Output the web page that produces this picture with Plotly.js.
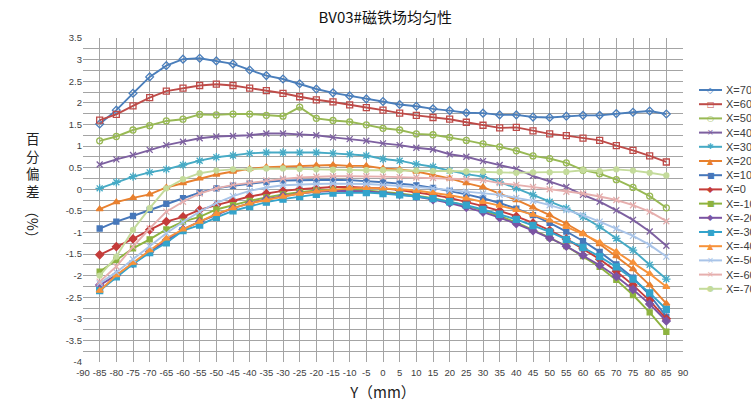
<!DOCTYPE html>
<html>
<head>
<meta charset="utf-8">
<script src="https://cdn.plot.ly/plotly-3.0.1.min.js"></script>
<style>html,body{margin:0;padding:0;background:#fff;}#chart{width:751px;height:405px;}</style>
</head>
<body>
<div id="chart"></div>
<script>
// Y position (mm) along the horizontal axis
const yPos = [-85,-80,-75,-70,-65,-60,-55,-50,-45,-40,-35,-30,-25,-20,-15,-10,-5,0,5,10,15,20,25,30,35,40,45,50,55,60,65,70,75,80,85];

const seriesNames = ["X=70","X=60","X=50","X=40","X=30","X=20","X=10","X=0","X=-10","X=-20","X=-30","X=-40","X=-50","X=-60","X=-70"];

const sX70 = [1.51,1.83,2.22,2.60,2.86,3.01,3.03,2.97,2.90,2.76,2.63,2.55,2.44,2.32,2.23,2.16,2.09,2.03,1.96,1.92,1.86,1.82,1.77,1.76,1.72,1.72,1.67,1.66,1.69,1.71,1.71,1.75,1.78,1.81,1.74];
const sX60 = [1.60,1.73,1.93,2.12,2.27,2.34,2.40,2.43,2.40,2.34,2.28,2.22,2.14,2.07,2.02,1.95,1.89,1.83,1.76,1.71,1.66,1.62,1.55,1.48,1.42,1.43,1.35,1.28,1.24,1.18,1.13,1.01,0.90,0.77,0.63];
const sX50 = [1.12,1.22,1.37,1.47,1.58,1.62,1.73,1.72,1.74,1.74,1.71,1.69,1.90,1.64,1.59,1.56,1.49,1.41,1.37,1.28,1.26,1.20,1.13,1.05,0.98,0.89,0.77,0.71,0.61,0.44,0.36,0.22,0.04,-0.16,-0.43];
const sX40 = [0.57,0.69,0.79,0.91,1.02,1.10,1.18,1.22,1.23,1.25,1.29,1.29,1.27,1.25,1.20,1.16,1.12,1.06,1.02,0.96,0.92,0.81,0.75,0.65,0.56,0.47,0.31,0.18,0.05,-0.13,-0.29,-0.49,-0.71,-0.98,-1.31];
const sX30 = [0.02,0.16,0.29,0.39,0.46,0.56,0.66,0.74,0.78,0.83,0.85,0.85,0.85,0.85,0.83,0.81,0.78,0.70,0.66,0.58,0.52,0.43,0.35,0.29,0.17,0.02,-0.13,-0.29,-0.44,-0.64,-0.87,-1.14,-1.41,-1.75,-2.08];
const sX20 = [-0.46,-0.30,-0.20,-0.12,0.04,0.14,0.25,0.34,0.41,0.47,0.51,0.52,0.54,0.55,0.56,0.54,0.54,0.48,0.46,0.41,0.33,0.25,0.14,0.05,-0.10,-0.25,-0.42,-0.60,-0.80,-1.02,-1.27,-1.55,-1.85,-2.22,-2.65];
const sX10 = [-0.91,-0.75,-0.62,-0.48,-0.34,-0.21,-0.08,0.02,0.08,0.13,0.17,0.20,0.21,0.22,0.22,0.21,0.19,0.16,0.13,0.09,0.03,-0.04,-0.12,-0.21,-0.32,-0.45,-0.60,-0.78,-0.98,-1.20,-1.45,-1.74,-2.05,-2.45,-2.95];
const sX0 = [-1.52,-1.33,-1.15,-0.94,-0.75,-0.64,-0.48,-0.37,-0.27,-0.17,-0.10,-0.04,0.00,0.03,0.05,0.05,0.04,0.02,-0.02,-0.07,-0.13,-0.20,-0.29,-0.39,-0.50,-0.63,-0.78,-0.95,-1.15,-1.38,-1.62,-1.90,-2.22,-2.58,-3.00];
const sXm10 = [-1.91,-1.64,-1.37,-1.16,-0.93,-0.75,-0.64,-0.47,-0.37,-0.27,-0.19,-0.12,-0.07,-0.03,-0.01,-0.01,-0.03,-0.06,-0.10,-0.15,-0.21,-0.29,-0.38,-0.49,-0.62,-0.77,-0.94,-1.12,-1.32,-1.55,-1.80,-2.10,-2.45,-2.85,-3.30];
const sXm20 = [-2.22,-1.99,-1.72,-1.45,-1.18,-0.93,-0.75,-0.60,-0.44,-0.33,-0.23,-0.16,-0.10,-0.06,-0.04,-0.04,-0.05,-0.08,-0.12,-0.17,-0.24,-0.32,-0.42,-0.53,-0.66,-0.80,-0.96,-1.13,-1.32,-1.53,-1.76,-2.02,-2.32,-2.66,-3.05];
const sXm30 = [-2.35,-2.03,-1.73,-1.47,-1.24,-0.96,-0.83,-0.65,-0.50,-0.40,-0.30,-0.23,-0.17,-0.12,-0.09,-0.08,-0.08,-0.10,-0.13,-0.17,-0.22,-0.29,-0.37,-0.47,-0.58,-0.70,-0.84,-0.99,-1.16,-1.35,-1.56,-1.80,-2.08,-2.40,-2.78];
const sXm40 = [-2.35,-1.99,-1.70,-1.41,-1.14,-0.93,-0.75,-0.57,-0.44,-0.33,-0.25,-0.17,-0.10,-0.05,-0.01,0.02,0.03,0.02,0.00,-0.03,-0.08,-0.14,-0.21,-0.29,-0.38,-0.48,-0.59,-0.72,-0.87,-1.04,-1.23,-1.45,-1.70,-1.96,-2.26];
const sXm50 = [-2.18,-1.92,-1.62,-1.32,-1.02,-0.76,-0.52,-0.32,-0.16,-0.04,0.04,0.09,0.11,0.12,0.13,0.13,0.12,0.10,0.08,0.05,0.02,-0.02,-0.06,-0.10,-0.13,-0.20,-0.27,-0.37,-0.48,-0.60,-0.75,-0.91,-1.08,-1.29,-1.56];
const sXm60 = [-2.14,-1.79,-1.33,-0.91,-0.52,-0.29,-0.10,0.02,0.10,0.15,0.20,0.24,0.27,0.29,0.30,0.30,0.30,0.29,0.28,0.27,0.26,0.25,0.23,0.21,0.14,0.10,0.05,0.00,-0.06,-0.10,-0.17,-0.25,-0.37,-0.52,-0.74];
const sXm70 = [-2.00,-1.56,-0.94,-0.44,0.02,0.23,0.37,0.43,0.46,0.46,0.48,0.48,0.47,0.46,0.45,0.44,0.44,0.44,0.43,0.43,0.42,0.42,0.41,0.41,0.40,0.38,0.39,0.39,0.40,0.44,0.42,0.46,0.43,0.38,0.32];

const xTickVals = [-90,-85,-80,-75,-70,-65,-60,-55,-50,-45,-40,-35,-30,-25,-20,-15,-10,-5,0,5,10,15,20,25,30,35,40,45,50,55,60,65,70,75,80,85,90];
const xTickText = ["-90","-85","-80","-75","-70","-65","-60","-55","-50","-45","-40","-35","-30","-25","-20","-15","-10","-5","0","5","10","15","20","25","30","35","40","45","50","55","60","65","70","75","80","85","90"];
const yTickVals = [-4,-3.5,-3,-2.5,-2,-1.5,-1,-0.5,0,0.5,1,1.5,2,2.5,3,3.5];
const yTickText = ["-4","-3.5","-3","-2.5","-2","-1.5","-1","-0.5","0","0.5","1","1.5","2","2.5","3","3.5"];

const allSeries = [sX70,sX60,sX50,sX40,sX30,sX20,sX10,sX0,sXm10,sXm20,sXm30,sXm40,sXm50,sXm60,sXm70];

// styling
const colors = ["#4A7EBB","#BE4B48","#98B954","#7D60A0","#46AAC5","#E8802F","#4677BA","#C43C3A","#8DB33F","#7B54A3","#33A3CB","#F7923A","#A9C4E8","#E6AFAE","#C4DB9B"];
const symbols = ["diamond-open","square-open","circle-open","x-thin-open","asterisk-open","triangle-up","square","diamond","square","diamond","square","triangle-up","x-thin-open","x-thin-open","circle"];
const sizes = [6,6,6,6,7,6,5,6,5,6,6,6,6,6,5];
const glyphs = ["◇","□","○","×","✱","▲","■","◆","■","◆","■","▲","×","×","●"];

const traces = allSeries.map((s, i) => ({
  type: "scatter",
  mode: "lines+markers",
  name: seriesNames[i],
  x: yPos,
  y: s,
  line: {color: colors[i], width: 1.9},
  marker: {symbol: symbols[i], size: sizes[i], color: colors[i], line: {color: colors[i], width: 1.3}},
  showlegend: false
}));

// custom compact legend
const L = 83, R = 683, T = 38, B = 362;
const px2x = p => (p - L) / (R - L);
const px2y = p => (B - p) / (B - T);
const shapes = [];
const annotations = [];
seriesNames.forEach((n, i) => {
  const yp = 90 + i * 14.2;
  shapes.push({type: "line", xref: "paper", yref: "paper", x0: px2x(699), x1: px2x(722), y0: px2y(yp), y1: px2y(yp), line: {color: colors[i], width: 2}});
  annotations.push({xref: "paper", yref: "paper", x: px2x(710.5), y: px2y(yp), text: glyphs[i], showarrow: false, xanchor: "center", yanchor: "middle", font: {size: 8, color: colors[i], family: "DejaVu Sans"}});
  annotations.push({xref: "paper", yref: "paper", x: px2x(724), y: px2y(yp), text: n, showarrow: false, xanchor: "left", yanchor: "middle", font: {size: 11, color: "#404040", family: "Liberation Sans, Arial"}});
});

// y axis title (stacked characters)
annotations.push({xref: "paper", yref: "paper", x: px2x(33), y: px2y(164), text: "百<br>分<br>偏<br>差", showarrow: false, xanchor: "center", yanchor: "middle", font: {size: 13.5, color: "#222", family: "Noto Sans CJK SC"}});
annotations.push({xref: "paper", yref: "paper", x: px2x(33), y: px2y(224), text: "（%）", textangle: 90, showarrow: false, xanchor: "center", yanchor: "middle", font: {size: 14, color: "#222", family: "Noto Sans CJK SC"}});

const gridC = "#A4A4A4";
const layout = {
  width: 751, height: 405,
  margin: {l: L, r: 751 - R, t: T, b: 405 - B, pad: 0},
  paper_bgcolor: "#ffffff", plot_bgcolor: "#ffffff",
  title: {text: "BV03#磁铁场均匀性", x: 0.513, xref: "container", y: 1 - 18/405, yref: "container", yanchor: "middle", xanchor: "center", font: {size: 15, color: "#111", family: "Noto Sans CJK SC"}},
  xaxis: {
    range: [-90, 90], tickmode: "array", tickvals: xTickVals, ticktext: xTickText,
    showgrid: true, gridcolor: gridC, gridwidth: 1, zeroline: false,
    showline: false, ticks: "", ticklabelstandoff: 3,
    tickfont: {size: 9.5, color: "#404040", family: "Liberation Sans Narrow, Liberation Sans, Arial"},
    title: {text: "Y（mm）", standoff: 10, font: {size: 15, color: "#222", family: "Noto Sans CJK SC"}}
  },
  yaxis: {
    range: [-4, 3.5], tickmode: "array", tickvals: yTickVals, ticktext: yTickText,
    showgrid: true, gridcolor: gridC, gridwidth: 1, zeroline: false,
    showline: false, ticks: "",
    minor: {tickmode: "linear", tick0: -4, dtick: 0.25, showgrid: true, gridcolor: gridC, gridwidth: 1, ticks: ""},
    tickfont: {size: 9.5, color: "#404040", family: "Liberation Sans, Arial"}
  },
  showlegend: false,
  shapes: shapes,
  annotations: annotations
};

Plotly.newPlot("chart", traces, layout, {displayModeBar: false, staticPlot: true});
</script>
</body>
</html>
